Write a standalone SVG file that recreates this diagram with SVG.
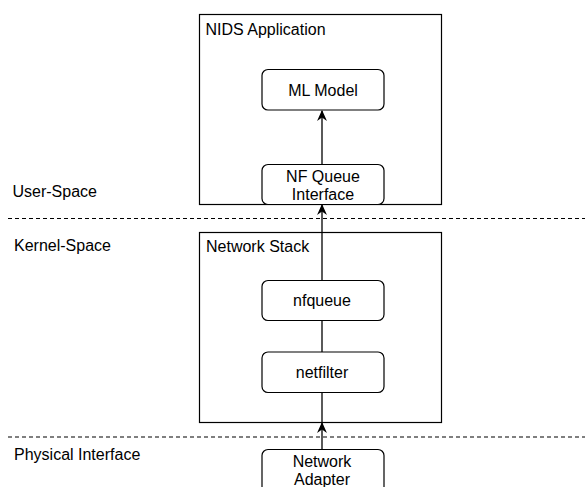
<svg xmlns="http://www.w3.org/2000/svg" width="585" height="487" viewBox="0 0 585 487">
<style>
.box{fill:#fff;stroke:#000;stroke-width:1.2}
.t{font-family:"Liberation Sans",Arial,sans-serif;font-size:16px;fill:#000}
.c{text-anchor:middle}
.dash{stroke:#000;stroke-width:1.2;stroke-dasharray:4 3;fill:none}
.edge{stroke:#000;stroke-width:1.3;fill:none}
</style>
<defs>
<marker id="arr" viewBox="0 0 10 10" refX="9" refY="5" markerWidth="11" markerHeight="11" markerUnits="userSpaceOnUse" orient="auto">
<path d="M0,0.5 L10,5 L0,9.5 L3,5 Z" fill="#000"/>
</marker>
</defs>
<rect width="585" height="487" fill="#fff"/>
<g id="layers">
<line class="dash" x1="8" y1="218.5" x2="585" y2="218.5"/>
<line class="dash" x1="8" y1="437" x2="585" y2="437"/>
<text class="t" x="12.5" y="197">User-Space</text>
<text class="t" x="14" y="251">Kernel-Space</text>
<text class="t" x="14" y="460">Physical Interface</text>
</g>
<g id="nids">
<rect class="box" x="199.5" y="14.5" width="242" height="190"/>
<text class="t" x="205.5" y="35">NIDS Application</text>
</g>
<g id="netstack">
<rect class="box" x="199.5" y="232.5" width="242" height="190"/>
<text class="t" x="206" y="251.5">Network Stack</text>
</g>
<g id="connectors">
<line class="edge" x1="322" y1="164" x2="322" y2="111" marker-end="url(#arr)"/>
<line class="edge" x1="322" y1="280" x2="322" y2="205" marker-end="url(#arr)"/>
<line class="edge" x1="322" y1="320" x2="322" y2="352"/>
<line class="edge" x1="322" y1="392" x2="322" y2="422"/>
<line class="edge" x1="322" y1="449" x2="322" y2="423" marker-end="url(#arr)"/>
</g>
<g id="mlmodel">
<rect class="box" x="262" y="69.5" width="122" height="40.5" rx="6"/>
<text class="t c" x="323" y="95.5">ML Model</text>
</g>
<g id="nfqueueif">
<rect class="box" x="262" y="164.5" width="122" height="40" rx="6"/>
<text class="t c" x="323" y="181.5">NF Queue</text>
<text class="t c" x="323" y="200">Interface</text>
</g>
<g id="nfqueue">
<rect class="box" x="262" y="280.5" width="122" height="40" rx="6"/>
<text class="t c" x="322" y="306">nfqueue</text>
</g>
<g id="netfilter">
<rect class="box" x="262" y="352" width="122" height="40.5" rx="6"/>
<text class="t c" x="322" y="378">netfilter</text>
</g>
<g id="adapter">
<rect class="box" x="262" y="449.5" width="122" height="45" rx="6"/>
<text class="t c" x="322" y="466.5">Network</text>
<text class="t c" x="322" y="485">Adapter</text>
</g>
</svg>
